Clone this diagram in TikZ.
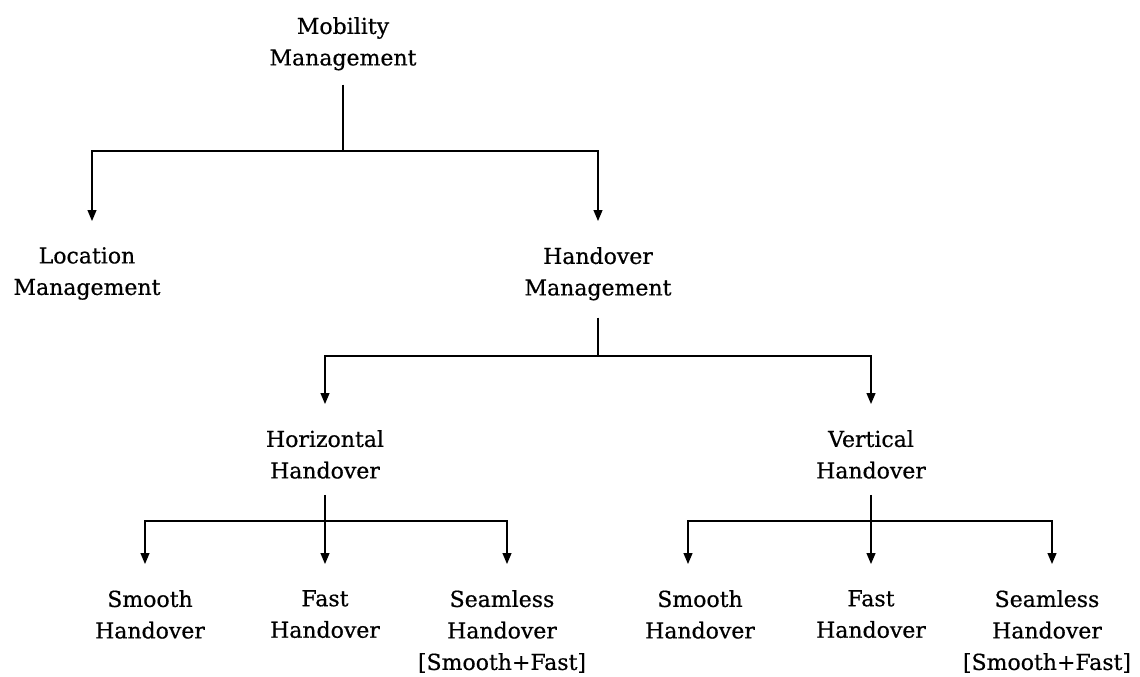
\documentclass[tikz,border=0pt]{standalone}
\usepackage{fontspec}
\setmainfont{DejaVu Serif}[FakeBold=0.6]
\usetikzlibrary{arrows.meta}
\begin{document}
\begin{tikzpicture}[x=1pt,y=-1pt,
  lbl/.style={align=center,inner sep=0pt,font=\fontsize{22}{31.5}\selectfont,anchor=north},
  conn/.style={line width=1.2pt},
  arr/.style={conn,-{Triangle[width=9pt,length=11pt]},shorten >=26pt},
]
\useasboundingbox (0,0) rectangle (1140,677);
% nodes
\node[lbl] (mm) at (343,17) {Mobility\\Management};
\node[lbl] (lm) at (87,247) {Location\\Management};
\node[lbl] (hm) at (598,247) {Handover\\Management};
\node[lbl] (hh) at (325,430) {Horizontal\\Handover};
\node[lbl] (vh) at (871,430) {Vertical\\Handover};
\node[lbl] (s1) at (150,590) {Smooth\\Handover};
\node[lbl] (f1) at (325,590) {Fast\\Handover};
\node[lbl] (sl1) at (502,590) {Seamless\\Handover\\{[}Smooth+Fast{]}};
\node[lbl] (s2) at (700,590) {Smooth\\Handover};
\node[lbl] (f2) at (871,590) {Fast\\Handover};
\node[lbl] (sl2) at (1047,590) {Seamless\\Handover\\{[}Smooth+Fast{]}};
% junctions
\coordinate (j1) at (343,151);
\coordinate (j2) at (598,356);
\coordinate (j3) at (325,521);
\coordinate (j4) at (871,521);
% connectors
\draw[conn,shorten <=14pt] (mm.south) -- (j1);
\draw[arr] (j1) -| ([xshift=5pt]lm.north);
\draw[arr] (j1) -| (hm.north);
\draw[conn,shorten <=17pt] (hm.south) -- (j2);
\draw[arr] (j2) -| (hh.north);
\draw[arr] (j2) -| (vh.north);
\draw[arr,shorten <=16pt] (hh.south) -- (f1.north);
\draw[arr] (j3) -| ([xshift=-5pt]s1.north);
\draw[arr] (j3) -| ([xshift=5pt]sl1.north);
\draw[arr,shorten <=16pt] (vh.south) -- (f2.north);
\draw[arr] (j4) -| ([xshift=-12pt]s2.north);
\draw[arr] (j4) -| ([xshift=5pt]sl2.north);
\end{tikzpicture}
\end{document}
